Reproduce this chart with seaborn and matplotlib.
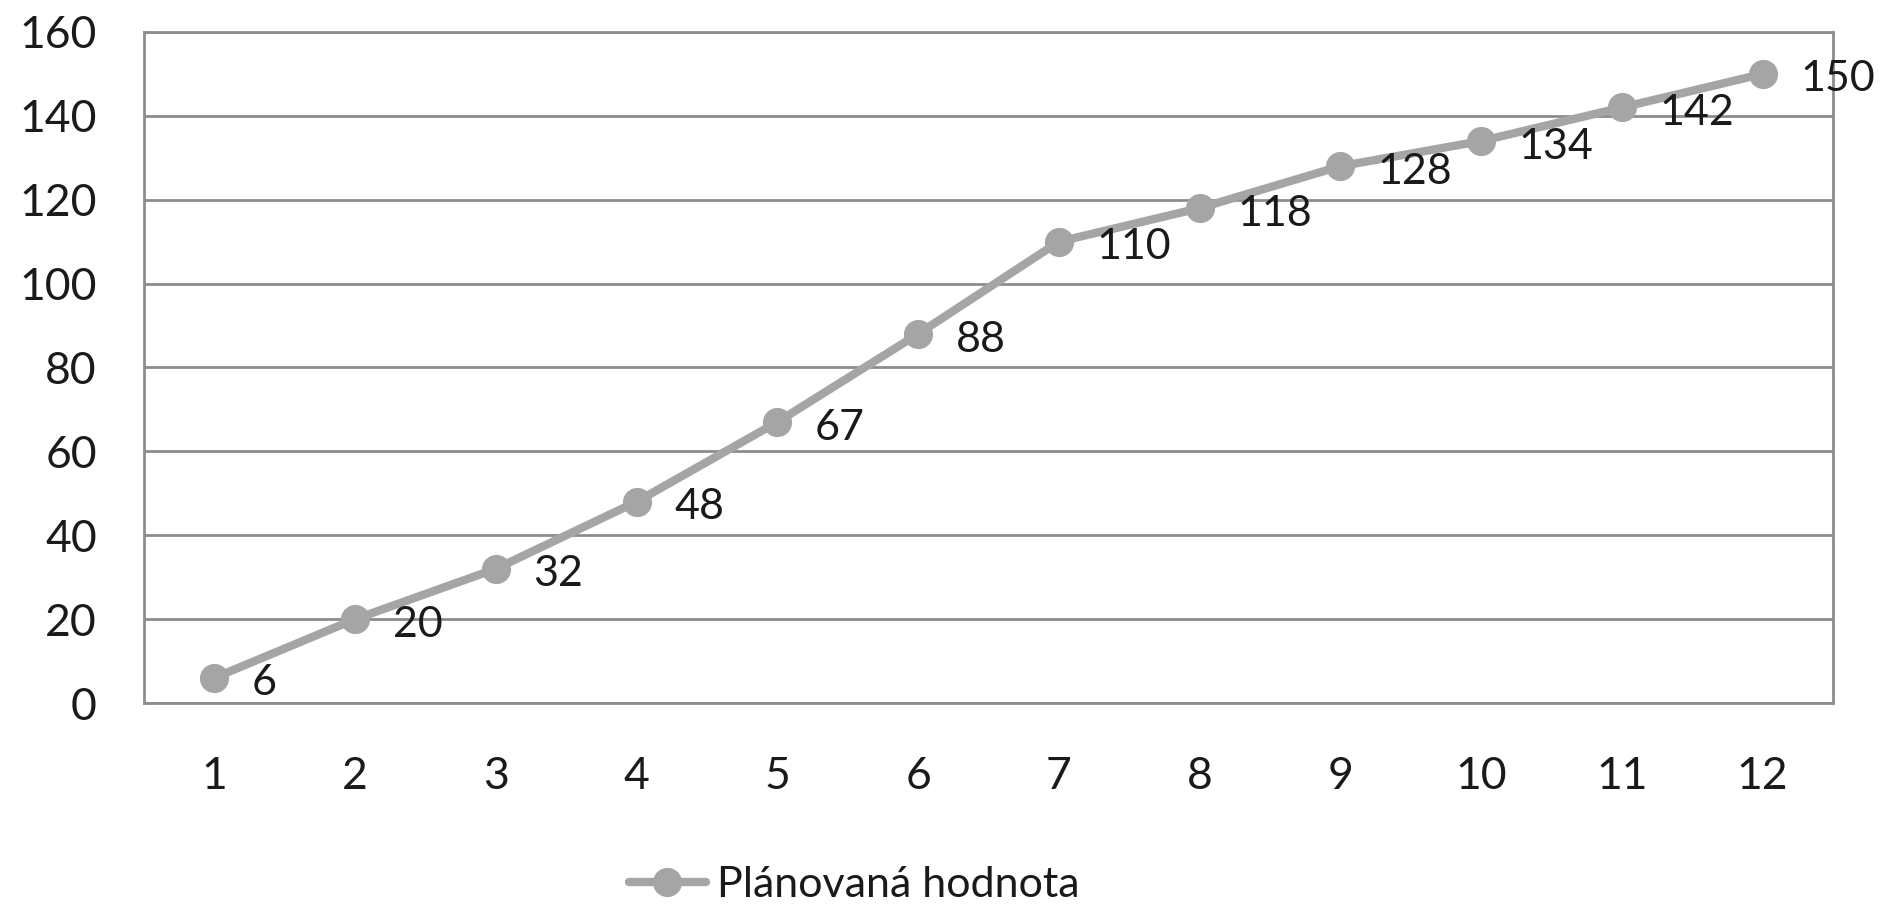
import matplotlib
matplotlib.use('Agg')
import matplotlib.pyplot as plt
import seaborn as sns
import pandas as pd

# Chart data
months = [1, 2, 3, 4, 5, 6, 7, 8, 9, 10, 11, 12]
planned = [6, 20, 32, 48, 67, 88, 110, 118, 128, 134, 142, 150]
series_name = 'Plánovaná hodnota'

df = pd.DataFrame({'month': months, 'value': planned})

sns.set_theme(style='white')
plt.rcParams['font.family'] = ['Lato', 'DejaVu Sans']

line_color = '#A5A5A5'
grid_color = '#8C8C8C'
text_color = '#1a1a1a'

fig = plt.figure(figsize=(18.81, 9.07), dpi=100)
ax = fig.add_axes([144 / 1881, 1 - 703 / 907, (1833 - 144) / 1881, (703 - 32) / 907])

sns.lineplot(data=df, x='month', y='value', ax=ax, color=line_color, linewidth=6,
             marker='o', markersize=21, markeredgewidth=0, label=series_name,
             solid_capstyle='round')

# data labels to the right of each point
for m, v in zip(months, planned):
    ax.annotate(str(v), (m, v), xytext=(27, -4), textcoords='offset points',
                ha='left', va='center', fontsize=31, color=text_color,
                annotation_clip=False)

ax.set_xlim(0.5, 12.5)
ax.set_ylim(0, 160)
ax.set_xticks(months)
ax.set_yticks(range(0, 161, 20))
ax.set_xlabel('')
ax.set_ylabel('')
ax.tick_params(axis='both', length=0, labelsize=32, colors=text_color)
ax.tick_params(axis='x', pad=38)
ax.tick_params(axis='y', pad=34)

ax.yaxis.grid(True, color=grid_color, linewidth=2)
ax.xaxis.grid(False)
for s in ax.spines.values():
    s.set_visible(True)
    s.set_color(grid_color)
    s.set_linewidth(2)

ax.get_legend().remove()
handles, labels = ax.get_legend_handles_labels()
fig.legend(handles, labels, loc='center', bbox_to_anchor=(854 / 1881, 1 - 885 / 907),
           frameon=False, fontsize=31, handlelength=1.8, handletextpad=0.25,
           labelcolor=text_color)

fig.savefig('out.png', dpi=100)
